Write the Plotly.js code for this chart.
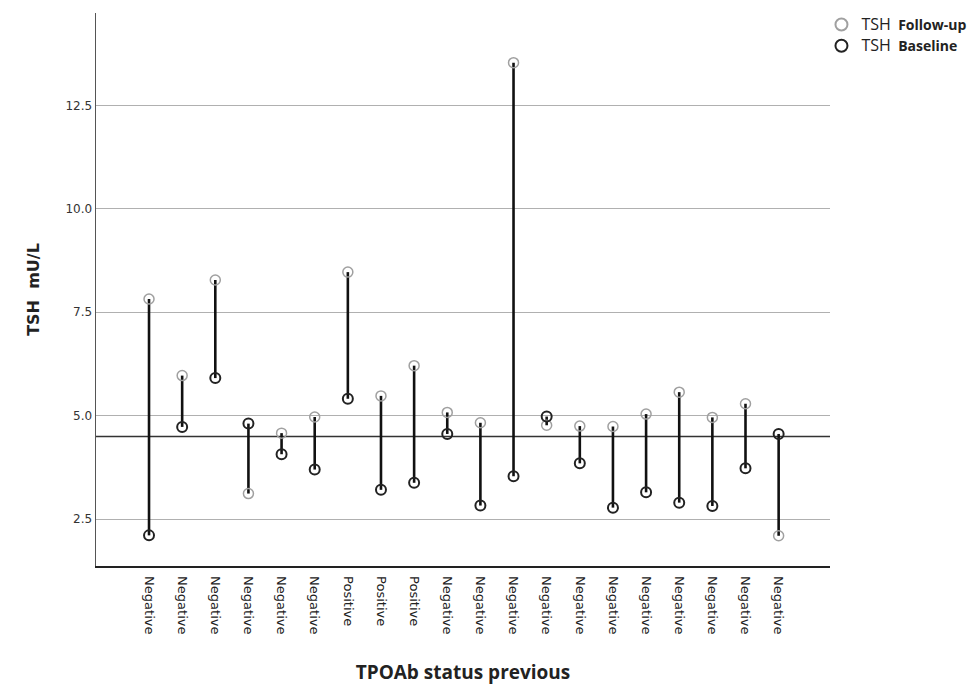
<!DOCTYPE html>
<html>
<head>
<meta charset="utf-8">
<script src="https://cdn.plot.ly/plotly-3.0.1.min.js"></script>
<style>html,body{margin:0;padding:0;background:#fff;}#chart{width:971px;height:686px;}</style>
</head>
<body>
<div id="chart"></div>
<script>
const categories = ["Negative","Negative","Negative","Negative","Negative","Negative","Positive","Positive","Positive","Negative","Negative","Negative","Negative","Negative","Negative","Negative","Negative","Negative","Negative","Negative"];
const tshFollowUp = [7.82,5.97,8.28,3.12,4.58,4.97,8.47,5.48,6.21,5.08,4.83,13.53,4.77,4.75,4.74,5.04,5.57,4.96,5.29,2.10];
const tshBaseline = [2.11,4.73,5.91,4.81,4.07,3.70,5.41,3.21,3.38,4.56,2.83,3.54,4.98,3.85,2.78,3.15,2.90,2.82,3.73,4.56];
const referenceLine = 4.5;
const yTicks = [2.5,5.0,7.5,10.0,12.5];

const idx = categories.map((c,i)=>i);
const lx = [], ly = [];
idx.forEach(i=>{ lx.push(i,i,null); ly.push(tshFollowUp[i], tshBaseline[i], null); });

const traces = [
  {x: lx, y: ly, mode:'lines', type:'scatter', line:{color:'#111', width:2.6}, showlegend:false, hoverinfo:'skip'},
  {x: idx, y: tshFollowUp, mode:'markers', type:'scatter', name:'<span style="font-size:16px">TSH</span>&nbsp;&nbsp;<b>Follow-up</b>',
   marker:{symbol:'circle-open', size:10, color:'#a0a0a0', line:{width:1.5, color:'#a0a0a0'}}},
  {x: idx, y: tshBaseline, mode:'markers', type:'scatter', name:'<span style="font-size:16px">TSH</span>&nbsp;&nbsp;<b>Baseline</b>',
   marker:{symbol:'circle-open', size:10, color:'#222', line:{width:2, color:'#222'}}}
];

const layout = {
  width:971, height:686,
  margin:{l:96, r:141, t:13, b:120, autoexpand:false},
  paper_bgcolor:'#fff', plot_bgcolor:'#fff',
  font:{family:'Open Sans, DejaVu Sans, sans-serif', color:'#222'},
  xaxis:{
    range:[-1.6,20.55], tickvals:idx, ticktext:categories, tickangle:90,
    showgrid:false, zeroline:false, showline:true, linecolor:'#222', linewidth:1.5,
    ticks:'', ticklabelstandoff:6, tickfont:{family:'DejaVu Sans, sans-serif', size:13, color:'#222'},
    title:{text:'<b>TPOAb status previous</b>', font:{size:19, family:'Open Sans, sans-serif', color:'#222'}, standoff:32}
  },
  yaxis:{
    range:[1.37,14.73], tickvals:yTicks, tickformat:'.1f',
    showgrid:true, gridcolor:'#b0b0b0', gridwidth:1, zeroline:false,
    showline:true, linecolor:'#555', linewidth:1.5, ticks:'',
    tickfont:{family:'DejaVu Sans, sans-serif', size:12, color:'#333'},
    title:{text:'<b>TSH  mU/L</b>', font:{size:16, family:'DejaVu Sans, sans-serif', color:'#222'}, standoff:22}
  },
  shapes:[{type:'line', xref:'paper', x0:0, x1:1, yref:'y', y0:referenceLine, y1:referenceLine, line:{color:'#333', width:1.5}, layer:'below'}],
  legend:{xref:'container', yref:'container', x:0.846, xanchor:'left', y:0.987, yanchor:'top', bgcolor:'rgba(0,0,0,0)',
    font:{family:'Open Sans, sans-serif', size:14, color:'#222'}, itemwidth:30, itemsizing:'constant', tracegroupgap:0}
};

Plotly.newPlot('chart', traces, layout, {displayModeBar:false, staticPlot:true});
</script>
</body>
</html>
